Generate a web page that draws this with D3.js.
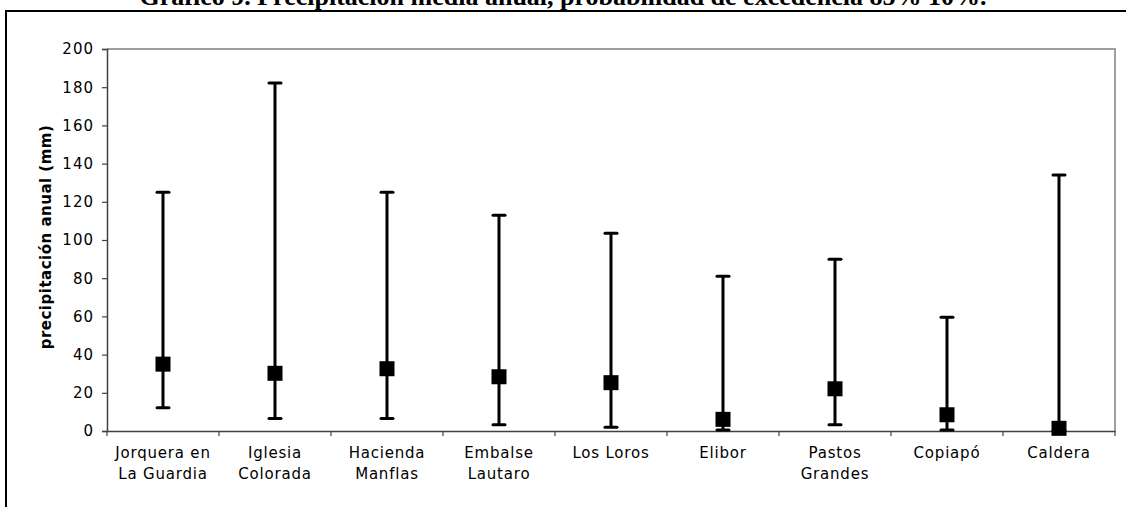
<!DOCTYPE html>
<html>
<head>
<meta charset="utf-8">
<script src="https://cdn.jsdelivr.net/npm/d3@7"></script>
<style>
  html, body { margin: 0; padding: 0; background: #fff; }
  svg { display: block; }
</style>
</head>
<body>
<svg id="chart" width="1126" height="507"></svg>
<script>
// Estaciones (eje X) y valores de precipitación anual en mm
const estaciones = [
  ["Jorquera en", "La Guardia"],
  ["Iglesia", "Colorada"],
  ["Hacienda", "Manflas"],
  ["Embalse", "Lautaro"],
  ["Los Loros"],
  ["Elibor"],
  ["Pastos", "Grandes"],
  ["Copiapó"],
  ["Caldera"]
];
const mediaAnual   = [35, 30.2, 32.6, 28.4, 25.3, 6.1, 22.1, 8.5, 1.4];
const excedencia85 = [12.2, 6.6, 6.6, 3.3, 1.9, 0.5, 3.3, 0.5, 0.2];
const excedencia10 = [125, 182.2, 125, 112.9, 103.5, 81, 89.9, 59.5, 134];
const ticksY = [0, 20, 40, 60, 80, 100, 120, 140, 160, 180, 200];

const svg = d3.select("#chart");
const W = 1126, H = 507;
const sans = "DejaVu Sans, Verdana, sans-serif";

// Marco exterior del gráfico
svg.append("rect")
  .attr("x", 6).attr("y", 11)
  .attr("width", W + 10).attr("height", H + 10)
  .attr("fill", "none").attr("stroke", "#000").attr("stroke-width", 2);

// Título
svg.append("text")
  .attr("x", 563).attr("y", 5)
  .attr("text-anchor", "middle")
  .attr("font-family", "Liberation Serif, Times New Roman, serif")
  .attr("font-weight", "bold")
  .attr("font-size", 26)
  .text("Gráfico 9. Precipitación media anual, probabilidad de excedencia 85% 10%.");

const m = { left: 107, right: 1115, top: 49, bottom: 431 };
const idx = estaciones.map((d, i) => i);

const x = d3.scaleBand().domain(idx).range([m.left, m.right]).padding(0);
const y = d3.scaleLinear().domain([0, 200]).range([m.bottom, m.top]);

// Borde del área de trazado (superior y derecho)
svg.append("path")
  .attr("d", `M${m.left},${m.top}H${m.right}V${m.bottom}`)
  .attr("fill", "none").attr("stroke", "#808080").attr("stroke-width", 1.5);

// Eje Y
const gy = svg.append("g")
  .attr("transform", `translate(${m.left},0)`)
  .call(d3.axisLeft(y).tickValues(ticksY).tickSize(5).tickPadding(8));
gy.select(".domain").attr("stroke", "#404040").attr("stroke-width", 1.5);
gy.selectAll(".tick line").attr("stroke", "#404040").attr("stroke-width", 1.2);
gy.selectAll(".tick text")
  .attr("font-family", sans)
  .attr("font-size", 15)
  .attr("letter-spacing", 1)
  .attr("fill", "#000");

// Eje X
const gx = svg.append("g")
  .attr("transform", `translate(0,${m.bottom})`)
  .call(d3.axisBottom(x).tickSize(0).tickFormat(""));
gx.select(".domain").attr("stroke", "#404040").attr("stroke-width", 1.5);

// Marcas de separación entre categorías
svg.append("g").selectAll("line")
  .data(d3.range(estaciones.length + 1))
  .join("line")
  .attr("x1", i => m.left + i * x.step())
  .attr("x2", i => m.left + i * x.step())
  .attr("y1", m.bottom).attr("y2", m.bottom + 5)
  .attr("stroke", "#404040").attr("stroke-width", 1.2);

// Etiquetas de categorías
svg.append("g").selectAll("text")
  .data(estaciones)
  .join("text")
  .attr("x", (d, i) => x(i) + x.bandwidth() / 2)
  .attr("y", 458)
  .attr("text-anchor", "middle")
  .attr("font-family", sans)
  .attr("font-size", 15)
  .attr("letter-spacing", 0.8)
  .attr("fill", "#000")
  .each(function (d) {
    d3.select(this).selectAll("tspan")
      .data(d)
      .join("tspan")
      .attr("x", d3.select(this).attr("x"))
      .attr("dy", (t, j) => j === 0 ? 0 : 21)
      .text(t => t);
  });

// Título del eje Y
svg.append("text")
  .attr("transform", `translate(51,${(m.top + m.bottom) / 2 - 3}) rotate(-90)`)
  .attr("text-anchor", "middle")
  .attr("font-family", sans)
  .attr("font-weight", "bold")
  .attr("font-size", 15)
  .attr("letter-spacing", 0.5)
  .text("precipitación anual (mm)");

// Barras de rango (85% – 10%) con remates
const g = svg.append("g");
const cx = i => x(i) + x.bandwidth() / 2;
g.selectAll("line.rango").data(idx).join("line")
  .attr("class", "rango")
  .attr("x1", cx).attr("x2", cx)
  .attr("y1", i => y(excedencia85[i])).attr("y2", i => y(excedencia10[i]))
  .attr("stroke", "#000").attr("stroke-width", 3);
g.selectAll("line.sup").data(idx).join("line")
  .attr("class", "sup")
  .attr("x1", i => cx(i) - 6).attr("x2", i => cx(i) + 6)
  .attr("y1", i => y(excedencia10[i])).attr("y2", i => y(excedencia10[i]))
  .attr("stroke", "#000").attr("stroke-width", 3).attr("stroke-linecap", "round");
g.selectAll("line.inf").data(idx).join("line")
  .attr("class", "inf")
  .attr("x1", i => cx(i) - 6).attr("x2", i => cx(i) + 6)
  .attr("y1", i => y(excedencia85[i])).attr("y2", i => y(excedencia85[i]))
  .attr("stroke", "#000").attr("stroke-width", 3).attr("stroke-linecap", "round");

// Marcadores de la media
const s = 15;
g.selectAll("rect.media").data(idx).join("rect")
  .attr("class", "media")
  .attr("x", i => cx(i) - s / 2)
  .attr("y", i => y(mediaAnual[i]) - s / 2)
  .attr("width", s).attr("height", s)
  .attr("fill", "#000");
</script>
</body>
</html>
